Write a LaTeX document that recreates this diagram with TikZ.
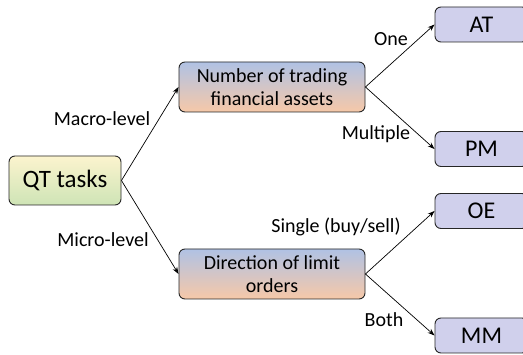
\documentclass[tikz,border=0pt]{standalone}
\usepackage{fontspec}
\setmainfont{Carlito}
\usetikzlibrary{arrows.meta}
\definecolor{rootTop}{RGB}{252,244,206}
\definecolor{rootBot}{RGB}{206,228,182}
\definecolor{midTop}{RGB}{176,194,228}
\definecolor{midBot}{RGB}{246,200,168}
\definecolor{leafFill}{RGB}{208,208,236}
\begin{document}
\begin{tikzpicture}[x=1pt,y=-1pt,
  box/.style={draw=black!85, line width=0.9pt, rounded corners=6pt, align=center, inner sep=2pt},
  rootbox/.style={box, top color=rootTop, bottom color=rootBot, minimum width=112pt, minimum height=49pt, font=\fontsize{25}{28}\selectfont},
  midbox/.style={box, top color=midTop, bottom color=midBot, minimum width=186pt, minimum height=50pt, font=\fontsize{20}{23}\selectfont},
  leafbox/.style={box, fill=leafFill, minimum width=93pt, minimum height=35pt, font=\fontsize{24}{26}\selectfont},
  link/.style={-{Stealth[length=7pt,width=5pt]}, line width=0.7pt},
  lbl/.style={font=\fontsize{20}{22}\selectfont, inner sep=1pt}]
\useasboundingbox (0,0) rectangle (523,355);
\node[rootbox] (qt) at (65,180.5) {QT tasks};
\node[midbox] (num) at (272,87) {Number of trading\\financial assets};
\node[midbox] (dir) at (272,274) {Direction of limit\\orders};
\node[leafbox] (at) at (481.5,24.5) {AT};
\node[leafbox] (pm) at (481.5,149) {PM};
\node[leafbox] (oe) at (481.5,211) {OE};
\node[leafbox] (mm) at (481.5,335.5) {MM};
\draw[link] (qt.east) -- (num.west);
\draw[link] (qt.east) -- (dir.west);
\draw[link] (num.east) -- (at.west);
\draw[link] (num.east) -- (pm.west);
\draw[link] (dir.east) -- (oe.west);
\draw[link] (dir.east) -- (mm.west);
\node[lbl] (l1) at (102,119) {Macro-level};
\node[lbl] (l2) at (103,240) {Micro-level};
\node[lbl] (l3) at (391,39) {One};
\node[lbl] (l4) at (376,134) {Multiple};
\node[lbl] (l5) at (336,227) {Single (buy/sell)};
\node[lbl] (l6) at (384,320) {Both};
\end{tikzpicture}
\end{document}
